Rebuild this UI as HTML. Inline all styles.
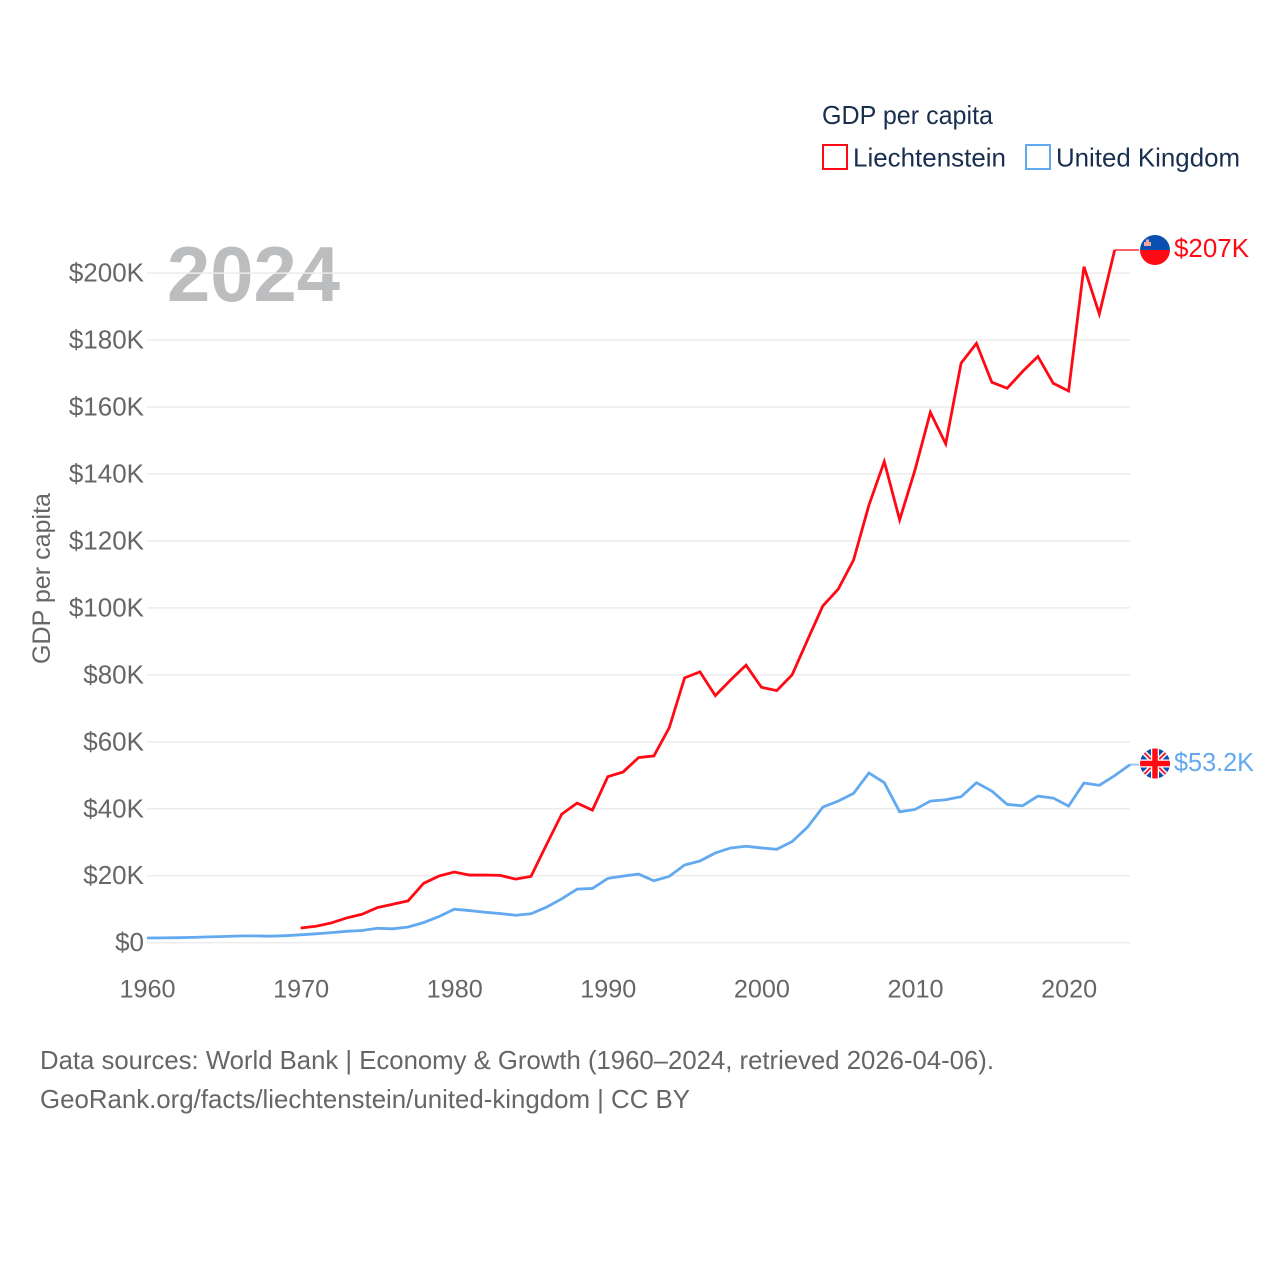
<!DOCTYPE html>
<html lang="en">
<head>
<meta charset="utf-8">
<title>GDP per capita: Liechtenstein and United Kingdom</title>
<style>
html,body{margin:0;padding:0;background:#fff;width:1280px;height:1280px;overflow:hidden}
svg{display:block}
text{font-family:"Liberation Sans",sans-serif}
</style>
</head>
<body>
<svg id="chart" width="1280" height="1280" viewBox="0 0 1280 1280" xmlns="http://www.w3.org/2000/svg">
  <rect width="1280" height="1280" fill="#ffffff"/>
  <text x="167" y="301" font-size="78" font-weight="700" fill="#bcbdbf" textLength="173" lengthAdjust="spacingAndGlyphs">2024</text>
  <g id="grid"></g>
  <g id="yaxis"></g>
  <g id="xaxis"></g>
  <text transform="translate(50 664) rotate(-90)" font-size="25" fill="#666666" textLength="171" lengthAdjust="spacingAndGlyphs">GDP per capita</text>
  <g id="series"></g>

  <g>
    <text x="822" y="124" font-size="26" fill="#1a2f4f" textLength="171" lengthAdjust="spacingAndGlyphs">GDP per capita</text>
    <g>
      <rect x="823" y="145" width="24" height="24" fill="#ffffff" stroke="#ff0a14" stroke-width="2"/>
      <text x="853" y="166.5" font-size="26" fill="#1a2f4f" textLength="153" lengthAdjust="spacingAndGlyphs">Liechtenstein</text>
    </g>
    <g>
      <rect x="1026" y="145" width="24" height="24" fill="#ffffff" stroke="#62a9f0" stroke-width="2"/>
      <text x="1056" y="166.5" font-size="26" fill="#1a2f4f" textLength="184" lengthAdjust="spacingAndGlyphs">United Kingdom</text>
    </g>
  </g>

  <defs>
    <clipPath id="clip-li"><circle cx="1155" cy="250" r="15"/></clipPath>
    <clipPath id="clip-uk"><circle cx="1155" cy="763.5" r="15"/></clipPath>
  </defs>

  <g clip-path="url(#clip-li)">
    <rect x="1140" y="235" width="30" height="15" fill="#0b50b0"/>
    <rect x="1140" y="250" width="30" height="15" fill="#ff0a14"/>
    <rect x="1144" y="242" width="7" height="4" fill="#f2a6a0"/>
    <rect x="1146" y="239.5" width="3" height="3" fill="#f2a6a0"/>
  </g>
  <g clip-path="url(#clip-uk)">
    <rect x="1140" y="748.5" width="30" height="30" fill="#0b50b0"/>
    <path d="M1140 748.5L1170 778.5M1170 748.5L1140 778.5" stroke="#ffffff" stroke-width="5"/>
    <path d="M1140 748.5L1170 778.5M1170 748.5L1140 778.5" stroke="#ee2233" stroke-width="2"/>
    <path d="M1155 748.5V778.5M1140 763.5H1170" stroke="#ffffff" stroke-width="8"/>
    <path d="M1155 748.5V778.5M1140 763.5H1170" stroke="#ff0a14" stroke-width="5.5"/>
  </g>

  <text x="1174" y="257" font-size="26" fill="#ff0a14" textLength="75" lengthAdjust="spacingAndGlyphs">$207K</text>
  <text x="1174" y="771" font-size="26" fill="#62a9f0" textLength="80" lengthAdjust="spacingAndGlyphs">$53.2K</text>

  <text x="40" y="1069" font-size="26" fill="#666666" textLength="954" lengthAdjust="spacingAndGlyphs">Data sources: World Bank | Economy &amp; Growth (1960–2024, retrieved 2026-04-06).</text>
  <text x="40" y="1108" font-size="26" fill="#666666" textLength="650" lengthAdjust="spacingAndGlyphs">GeoRank.org/facts/liechtenstein/united-kingdom | CC BY</text>
</svg>
<script>
var yTickValues = [0, 20, 40, 60, 80, 100, 120, 140, 160, 180, 200];
var yTickLabels = ["$0", "$20K", "$40K", "$60K", "$80K", "$100K", "$120K", "$140K", "$160K", "$180K", "$200K"];
var xTickYears = [1960, 1970, 1980, 1990, 2000, 2010, 2020];
var xTickLabels = ["1960", "1970", "1980", "1990", "2000", "2010", "2020"];

var liechtensteinStartYear = 1970;
var liechtensteinValues = [
  4.4, 4.9, 5.9, 7.4, 8.5, 10.5, 11.5, 12.5, 17.7, 19.9,
  21.1, 20.2, 20.2, 20.1, 19.0, 19.8, 29.2, 38.4, 41.7, 39.6,
  49.6, 51.0, 55.3, 55.8, 64.2, 79.1, 80.9, 73.8, 78.5, 82.9,
  76.3, 75.3, 80.0, 90.4, 100.6, 105.6, 114.3, 130.7, 143.7, 126.3,
  141.2, 158.4, 149.0, 173.1, 179.0, 167.4, 165.6, 170.6, 175.1, 167.1,
  164.8, 201.9, 187.8, 206.9
];

var ukStartYear = 1960;
var ukValues = [
  1.4, 1.45, 1.5, 1.6, 1.75, 1.85, 2.0, 2.05, 1.95, 2.1,
  2.35, 2.65, 3.0, 3.4, 3.65, 4.3, 4.15, 4.7, 6.0, 7.8,
  10.0, 9.6, 9.1, 8.7, 8.2, 8.65, 10.6, 13.1, 16.0, 16.2,
  19.2, 19.9, 20.5, 18.5, 19.8, 23.2, 24.4, 26.8, 28.3, 28.8,
  28.3, 27.9, 30.2, 34.5, 40.5, 42.3, 44.6, 50.7, 47.8, 39.1,
  39.8, 42.3, 42.7, 43.6, 47.8, 45.3, 41.3, 40.9, 43.8, 43.2,
  40.8, 47.7, 47.0, 49.9, 53.2
];

var NS = "http://www.w3.org/2000/svg";
var RED = "#ff0a14";
var BLUE = "#62a9f0";
var GRID = "#ececec";
var TICK = "#666666";

function xScale(year) { return 147 + (year - 1960) * 15.36; }
function yScale(value) { return 942.7 - value * 3.348; }

function make(tag, attrs, parent, content) {
  var el = document.createElementNS(NS, tag);
  for (var k in attrs) { el.setAttribute(k, attrs[k]); }
  if (content !== undefined) { el.textContent = content; }
  parent.appendChild(el);
  return el;
}

var gridGroup = document.getElementById("grid");
var yGroup = document.getElementById("yaxis");
var xGroup = document.getElementById("xaxis");
var seriesGroup = document.getElementById("series");

yTickValues.forEach(function (v, i) {
  var line = make("line", { x1: 147, x2: 1130, y1: yScale(v), y2: yScale(v), stroke: GRID, "stroke-width": 1.5 }, gridGroup);
  
  
  var label = make("text", { x: 144, y: yScale(v) + 8.5, "text-anchor": "end", "font-size": 26, fill: TICK }, yGroup, yTickLabels[i]);
  
  
});

xTickYears.forEach(function (year, i) {
  var label = make("text", { x: xScale(year) + 0.5, y: 997.5, "text-anchor": "middle", "font-size": 25.2, fill: TICK }, xGroup, xTickLabels[i]);
  
  
});

function seriesPoints(startYear, values) {
  return values.map(function (v, i) {
    return xScale(startYear + i).toFixed(2) + "," + yScale(v).toFixed(2);
  }).join(" ");
}

var lastLi = liechtensteinValues[liechtensteinValues.length - 1];
var lastLiYear = liechtensteinStartYear + liechtensteinValues.length - 1;
var lastUk = ukValues[ukValues.length - 1];
var lastUkYear = ukStartYear + ukValues.length - 1;

var connectorLi = make("line", { x1: xScale(lastLiYear), x2: 1139, y1: yScale(lastLi), y2: yScale(lastLi), stroke: RED, "stroke-width": 2, opacity: 0.65 }, seriesGroup);



var connectorUk = make("line", { x1: xScale(lastUkYear), x2: 1139, y1: yScale(lastUk), y2: yScale(lastUk), stroke: BLUE, "stroke-width": 2, opacity: 0.65 }, seriesGroup);



var ukLine = make("polyline", { points: seriesPoints(ukStartYear, ukValues), fill: "none", stroke: BLUE, "stroke-width": 2.8, "stroke-linejoin": "miter" }, seriesGroup);



var liLine = make("polyline", { points: seriesPoints(liechtensteinStartYear, liechtensteinValues), fill: "none", stroke: RED, "stroke-width": 2.8, "stroke-linejoin": "miter" }, seriesGroup);


</script>
</body>
</html>
